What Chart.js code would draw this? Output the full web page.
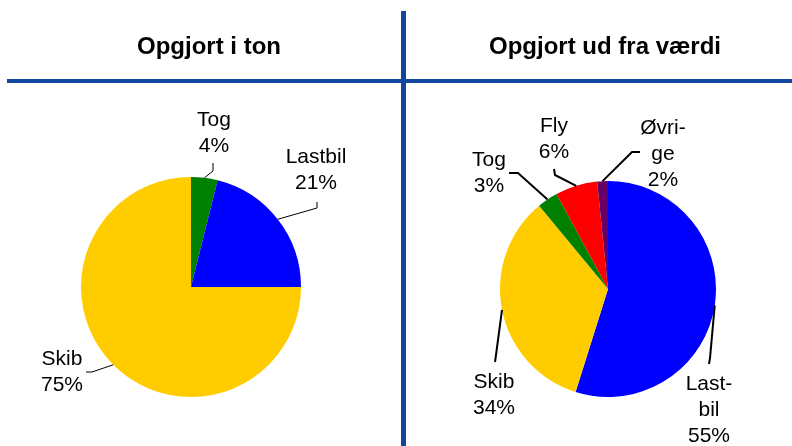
<!DOCTYPE html>
<html>
<head>
<meta charset="utf-8">
<script src="https://cdn.jsdelivr.net/npm/chart.js@4"></script>
<style>
  html, body { margin: 0; padding: 0; background: #fff; }
  #wrap { position: relative; width: 792px; height: 446px; overflow: hidden; }
  #wrap canvas { position: absolute; left: 0; top: 0; }
</style>
</head>
<body>
<div id="wrap">
  <canvas id="tonChart" width="792" height="446"></canvas>
  <canvas id="valueChart" width="792" height="446"></canvas>
</div>
<script>
// panel titles
var titles = ['Opgjort i ton', 'Opgjort ud fra værdi'];

// left pie: tonnage shares (clockwise from 12 o'clock)
var tonCategories = ['Tog', 'Lastbil', 'Skib'];
var tonValues = [3.9, 21.1, 75.0];
var tonLabelLines = [['Tog'], ['Lastbil'], ['Skib']];

// right pie: value shares
var valueCategories = ['Lastbil', 'Skib', 'Tog', 'Fly', 'Øvrige'];
var valueValues = [54.8, 34.1, 3.1, 6.3, 1.6];
var valueLabelLines = [['Last-', 'bil'], ['Skib'], ['Tog'], ['Fly'], ['Øvri-', 'ge']];

var COLORS = {
    Tog: '#008000',
    Lastbil: '#0000ff',
    Skib: '#ffcc00',
    Fly: '#ff0000',
    'Øvrige': '#660066'
};
var RULE_COLOR = '#1046a0';
var FONT = '"Liberation Sans", Arial, sans-serif';
var LINE_H = 26;

// label placement relative to the pie centre: text = [centre x, first baseline],
// lead = [start, elbow]; the leader then runs to the slice's mid-angle on the rim
var tonLayout = [
    { text: [23, -161], lead: [[22, -124], [22, -116]] },
    { text: [125, -124], lead: [[126, -85], [126, -79]] },
    { text: [-129, 78], lead: [[-105, 85], [-99, 85]] }
];
var valueLayout = [
    { text: [101, 101], lead: [[101, 75], [102, 69]] },
    { text: [-114, 99], lead: [[-113, 73], [-112, 66]] },
    { text: [-119, -123], lead: [[-99, -116], [-90, -116]] },
    { text: [-54, -157], lead: [[-54, -120], [-53, -114]] },
    { text: [55, -155], lead: [[32, -137], [24, -137]] }
];

function pct(values, i) {
    var sum = 0;
    for (var k = 0; k < values.length; k++) sum += values[k];
    return Math.round(values[i] / sum * 100) + '%';
}

var sliceLabels = {
    id: 'sliceLabels',
    afterDatasetsDraw: function (chart, args, opts) {
        var ctx = chart.ctx;
        var meta = chart.getDatasetMeta(0);
        var values = chart.data.datasets[0].data;
        ctx.save();
        ctx.font = '21px ' + FONT;
        ctx.fillStyle = '#000';
        ctx.textAlign = 'center';
        ctx.textBaseline = 'alphabetic';
        ctx.strokeStyle = '#000';
        ctx.lineWidth = opts.leadWidth;
        meta.data.forEach(function (arc, i) {
            var p = arc.getProps(['x', 'y', 'startAngle', 'endAngle', 'outerRadius'], true);
            var mid = (p.startAngle + p.endAngle) / 2;
            var lay = opts.layout[i];
            var rimX = p.x + Math.cos(mid) * p.outerRadius;
            var rimY = p.y + Math.sin(mid) * p.outerRadius;
            ctx.beginPath();
            ctx.moveTo(p.x + lay.lead[0][0], p.y + lay.lead[0][1]);
            ctx.lineTo(p.x + lay.lead[1][0], p.y + lay.lead[1][1]);
            ctx.lineTo(rimX, rimY);
            ctx.stroke();
            var lines = opts.lines[i].concat([pct(values, i)]);
            for (var l = 0; l < lines.length; l++) {
                ctx.fillText(lines[l], p.x + lay.text[0], p.y + lay.text[1] + l * LINE_H);
            }
        });
        ctx.restore();
    }
};

// rules and titles, drawn once on the left canvas
var panelFrame = {
    id: 'panelFrame',
    afterDraw: function (chart) {
        var ctx = chart.ctx;
        ctx.save();
        ctx.fillStyle = RULE_COLOR;
        ctx.fillRect(7, 79, 785, 4);
        ctx.fillRect(401, 11, 5, 435);
        ctx.fillStyle = '#000';
        ctx.font = 'bold 24px ' + FONT;
        ctx.textAlign = 'center';
        ctx.textBaseline = 'alphabetic';
        ctx.fillText(titles[0], 209, 54);
        ctx.fillText(titles[1], 605, 54);
        ctx.restore();
    }
};

function makePie(id, categories, values, lines, layout, padding, leadWidth, extraPlugins) {
    return new Chart(document.getElementById(id), {
        type: 'pie',
        data: {
            labels: categories,
            datasets: [{
                data: values,
                backgroundColor: categories.map(function (c) { return COLORS[c]; }),
                borderWidth: 0
            }]
        },
        options: {
            responsive: false,
            animation: false,
            events: [],
            layout: { padding: padding },
            plugins: {
                legend: { display: false },
                tooltip: { enabled: false },
                sliceLabels: { layout: layout, lines: lines, leadWidth: leadWidth }
            }
        },
        plugins: [sliceLabels].concat(extraPlugins || [])
    });
}

makePie('tonChart', tonCategories, tonValues, tonLabelLines, tonLayout,
    { left: 81, right: 491, top: 177, bottom: 49 }, 1, [panelFrame]);
makePie('valueChart', valueCategories, valueValues, valueLabelLines, valueLayout,
    { left: 500, right: 76, top: 181, bottom: 49 }, 2);
</script>
</body>
</html>
